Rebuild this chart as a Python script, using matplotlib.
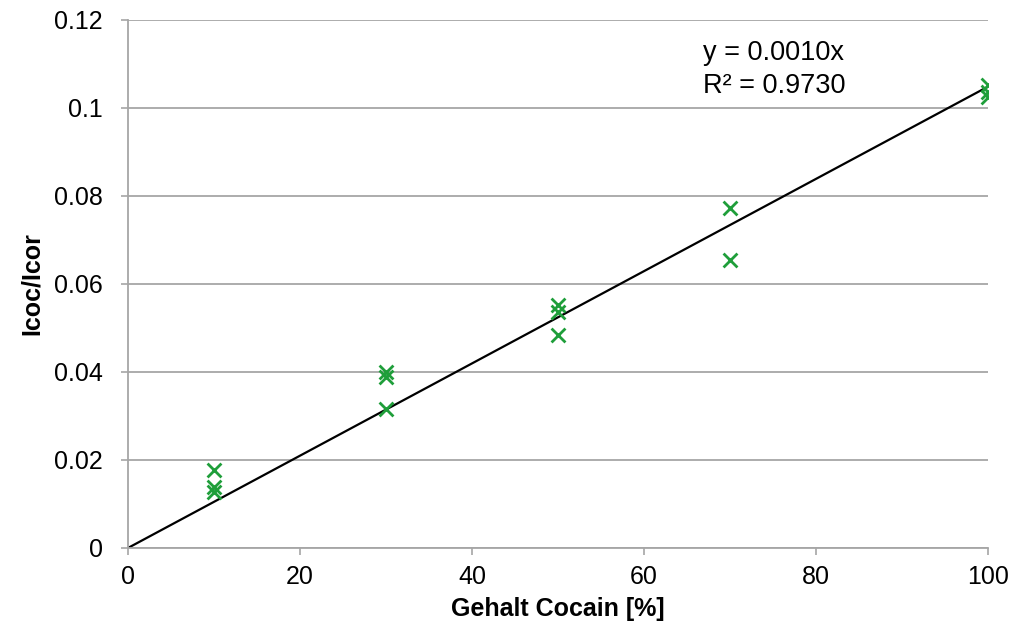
import numpy as np
import matplotlib
matplotlib.use("Agg")
import matplotlib.pyplot as plt

plt.rcParams['font.family'] = ['Liberation Sans', 'DejaVu Sans']

# Cocaine content [%] and measured intensity ratio Icoc/Icor
gehalt = [10, 10, 10, 30, 30, 30, 50, 50, 50, 70, 70, 100, 100, 100]
ratio = [0.0177, 0.0139, 0.0127,
         0.0400, 0.0389, 0.0316,
         0.0552, 0.0536, 0.0484,
         0.0773, 0.0655,
         0.1052, 0.1036, 0.1025]

x_ticks = [0, 20, 40, 60, 80, 100]
y_ticks = [0, 0.02, 0.04, 0.06, 0.08, 0.1, 0.12]
y_tick_labels = ["0", "0.02", "0.04", "0.06", "0.08", "0.1", "0.12"]

x = np.array(gehalt, dtype=float)
y = np.array(ratio, dtype=float)

# Linear fit through the origin
slope = np.sum(x * y) / np.sum(x * x)

fig = plt.figure(figsize=(10.14, 6.38), dpi=100)
ax = fig.add_axes([0.1262, 0.1411, 0.8482, 0.8276])

grid_c = "#a6a6a6"
fs = 18
ax.set_xlim(0, 100)
ax.set_ylim(0, 0.12)
ax.set_yticks(y_ticks)
ax.set_yticklabels(y_tick_labels)
ax.set_xticks(x_ticks)
ax.yaxis.grid(True, color=grid_c, linewidth=1.3)
ax.set_axisbelow(True)

for side in ["top", "right"]:
    ax.spines[side].set_visible(False)
for side in ["left", "bottom"]:
    ax.spines[side].set_color(grid_c)
    ax.spines[side].set_linewidth(1.3)

ax.tick_params(axis="both", direction="out", length=5, width=1.2,
               color=grid_c, labelsize=fs, labelcolor="#000000")
ax.tick_params(axis="y", pad=13)
ax.tick_params(axis="x", pad=7)

xl = np.array([0, 100])
ax.plot(xl, slope * xl, color="#000000", linewidth=1.6, zorder=2)

ax.scatter(x, y, marker="x", s=100, color="#1f9e3a", linewidths=2.0, zorder=3)

# Trendline equation and coefficient of determination
ax.text(66.9, 0.1109, "y = 0.0010x", fontsize=19.5, va="baseline", ha="left")
ax.text(66.9, 0.1034, "R² = 0.9730", fontsize=19.5, va="baseline", ha="left")

ax.set_xlabel("Gehalt Cocain [%]", fontsize=fs, fontweight="bold", labelpad=6)
ax.set_ylabel("Icoc/Icor", fontsize=fs, fontweight="bold", labelpad=7)

fig.savefig("out.png", dpi=100, facecolor="white")
